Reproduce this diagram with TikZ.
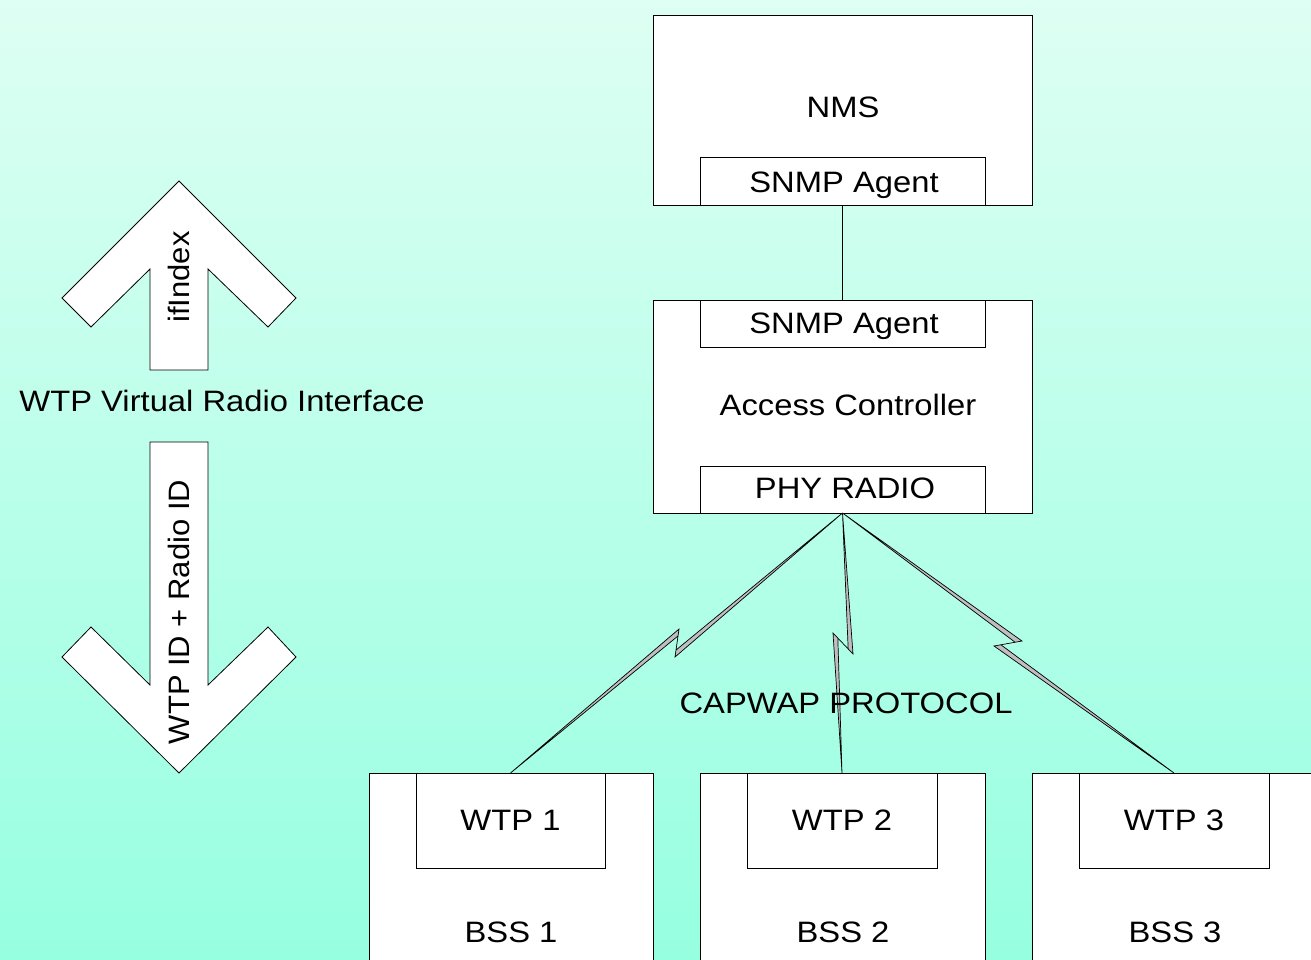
\documentclass[tikz,border=0pt]{standalone}
\usepackage{fontspec}
\setmainfont{Liberation Sans}[FakeStretch=1.11]
\newfontfamily\sidefont{Liberation Sans}[FakeStretch=1.05]
\usetikzlibrary{calc}

\begin{document}
\begin{tikzpicture}[x=1pt,y=-1pt,
  box/.style={draw=black, line width=0.8pt, fill=white, inner sep=0pt, outer sep=0pt},
  lbl/.style={font=\fontsize{29.5}{32}\selectfont, inner sep=0pt, text height=21pt, text depth=0pt},
  sidelbl/.style={lbl, font=\fontsize{29.5}{32}\sidefont, rotate=90},
  bolt/.style={draw=black, line width=0.7pt, fill=black!25, line join=miter},
  bigarrow/.style={draw=black, line width=0.8pt, fill=white, line join=miter},
  link/.style={draw=black, line width=0.8pt}]

% page and background
\path[use as bounding box] (0,0) rectangle (1311,959);
\clip (0,0) rectangle (1311,959);
\shade[top color={rgb,255:red,222;green,255;blue,243},
       bottom color={rgb,255:red,150;green,255;blue,224}] (0,0) rectangle (1311,959);

% network management station
\node[box, minimum width=379pt, minimum height=190pt] (nms) at (842.5,110) {};
\node[lbl] (nmstxt) at (843,107) {NMS};
\node[box, minimum width=285pt, minimum height=48pt] (nmsagent) at (842.5,181) {};
\node[lbl] (nmsagenttxt) at (844,182) {SNMP Agent};

% access controller
\node[box, minimum width=379pt, minimum height=213pt] (ac) at (842.5,406.5) {};
\node[box, minimum width=285pt, minimum height=47pt] (acagent) at (842.5,323.5) {};
\node[lbl] (acagenttxt) at (844,323) {SNMP Agent};
\node[lbl] (actxt) at (848,405) {Access Controller};
\node[box, minimum width=285pt, minimum height=47pt] (phy) at (842.5,489.5) {};
\node[lbl] (phytxt) at (845,488) {PHY RADIO};

\draw[link] (nmsagent.south) -- (acagent.north);

% basic service sets with their termination points
\node[box, minimum width=284pt, minimum height=240pt, anchor=north] (bss1) at (511,773) {};
\node[box, minimum width=285pt, minimum height=240pt, anchor=north] (bss2) at (842.5,773) {};
\node[box, minimum width=285pt, minimum height=240pt, anchor=north] (bss3) at (1174.5,773) {};
\node[box, minimum width=189pt, minimum height=95pt, anchor=north] (wtp1) at (510.5,773) {};
\node[box, minimum width=190pt, minimum height=95pt, anchor=north] (wtp2) at (842,773) {};
\node[box, minimum width=190pt, minimum height=95pt, anchor=north] (wtp3) at (1174,773) {};
\node[lbl] (wtp1txt) at (510.5,820) {WTP 1};
\node[lbl] (wtp2txt) at (842,820) {WTP 2};
\node[lbl] (wtp3txt) at (1174,820) {WTP 3};
\node[lbl] (bss1txt) at (511,932) {BSS 1};
\node[lbl] (bss2txt) at (843,932) {BSS 2};
\node[lbl] (bss3txt) at (1175,932) {BSS 3};

% radio links (lightning bolts)
\coordinate (k1a) at (675,657);  \coordinate (k1b) at (679,629);
\coordinate (k2a) at (853,654);  \coordinate (k2b) at (833,633);
\coordinate (k3a) at (1022,641); \coordinate (k3b) at (994,646);
\foreach \i in {1,2,3}{
  \path[bolt] (phy.south) -- (k\i a) -- ($(k\i b)!7pt!(k\i a)$) -- (wtp\i.north)
    -- (k\i b) -- ($(k\i a)!7pt!(k\i b)$) -- cycle;
}
\node[lbl] (capwap) at (846,703) {CAPWAP PROTOCOL};

% index mapping arrows
\draw[bigarrow] (179,181) -- (296,298) -- (268,327) -- (208,269) -- (208,370)
  -- (150,370) -- (150,269) -- (91,327) -- (62,298) -- cycle;
\node[sidelbl] (ifidx) at (179,277) {ifIndex};
\node[lbl] (vri) at (222,401) {WTP Virtual Radio Interface};
\draw[bigarrow] (150,442) -- (208,442) -- (208,685) -- (268,627) -- (296,657)
  -- (179,773) -- (62,657) -- (91,627) -- (150,685) -- cycle;
\node[sidelbl] (wtpid) at (179,612) {WTP ID + Radio ID};

\end{tikzpicture}
\end{document}
